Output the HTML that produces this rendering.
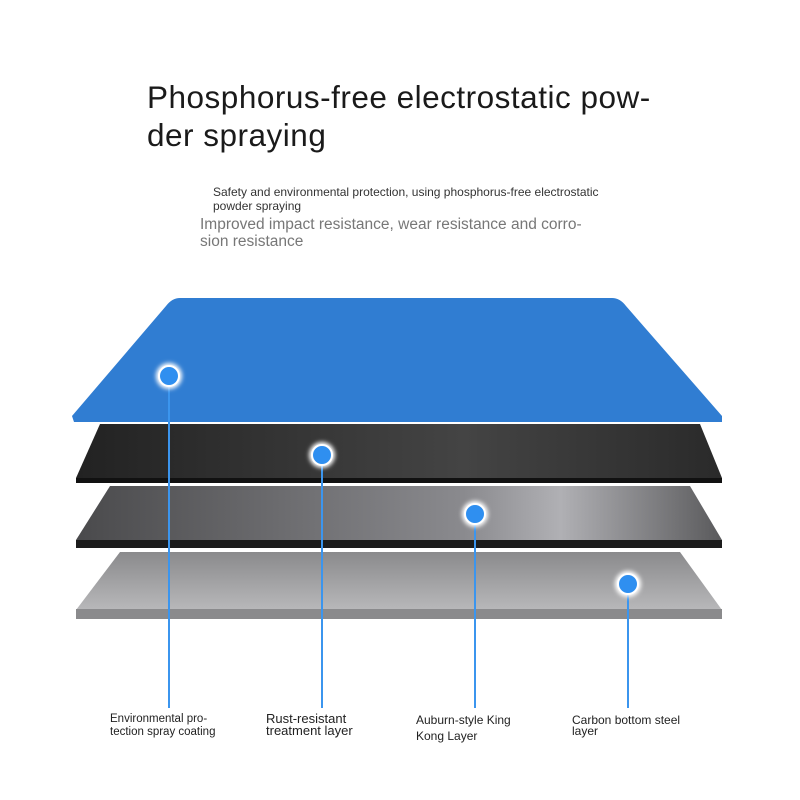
<!DOCTYPE html>
<html><head><style>
body{margin:0;width:800px;height:800px;background:#fff;overflow:hidden;position:relative;font-family:"Liberation Sans",sans-serif}
.t{position:absolute;color:#222}
</style></head><body>
<div class="t" style="left:147px;top:78px;font-size:31.5px;line-height:38px;width:560px;letter-spacing:0.5px;color:#1a1a1a">Phosphorus-free electrostatic pow-<br>der spraying</div>
<div class="t" style="left:213px;top:185px;font-size:12px;line-height:14px;color:#333">Safety and environmental protection, using phosphorus-free electrostatic<br>powder spraying</div>
<div class="t" style="left:200px;top:216px;font-size:15.5px;line-height:17px;color:#777">Improved impact resistance, wear resistance and corro-<br>sion resistance</div>
<svg width="800" height="800" style="position:absolute;left:0;top:0">
<defs>
<linearGradient id="lt" x1="0" y1="0" x2="0" y2="1"><stop offset="0" stop-color="#8a8a8c"/><stop offset="1" stop-color="#b8b8ba"/></linearGradient>
<linearGradient id="md" x1="0" y1="0" x2="1" y2="0"><stop offset="0" stop-color="#4a4a4c"/><stop offset="0.6" stop-color="#8a8a8e"/><stop offset="0.75" stop-color="#b0b0b4"/><stop offset="1" stop-color="#5a5a5c"/></linearGradient>
<linearGradient id="dk" x1="0" y1="0" x2="1" y2="0"><stop offset="0" stop-color="#222"/><stop offset="0.6" stop-color="#444"/><stop offset="1" stop-color="#2a2a2a"/></linearGradient>
<filter id="g"><feGaussianBlur stdDeviation="2"/></filter>
</defs>
<polygon points="120,552 680,552 722,610 76,610" fill="url(#lt)"/>
<rect x="76" y="609" width="646" height="10" fill="#8a8a8c"/>
<polygon points="110,486 690,486 722,540 76,540" fill="url(#md)"/>
<rect x="76" y="540" width="646" height="8" fill="#1c1c1c"/>
<polygon points="100,424 700,424 722,478 76,478" fill="url(#dk)"/>
<rect x="76" y="478" width="646" height="5" fill="#111"/>
<path d="M180,298 L612,298 Q620,298 626,306 L722,416 L722,422 L74,422 L72,416 L166,306 Q172,298 180,298 Z" fill="#307dd2"/>
<g stroke="#3b95ee" stroke-width="2">
<line x1="169" y1="376" x2="169" y2="708"/><line x1="322" y1="455" x2="322" y2="708"/>
<line x1="475" y1="514" x2="475" y2="708"/><line x1="628" y1="584" x2="628" y2="708"/>
</g>
<g fill="#fff" filter="url(#g)"><circle cx="169" cy="376" r="13"/><circle cx="322" cy="455" r="13"/><circle cx="475" cy="514" r="13"/><circle cx="628" cy="584" r="13"/></g>
<g fill="#2f8ff0" stroke="#fff" stroke-width="2"><circle cx="169" cy="376" r="10"/><circle cx="322" cy="455" r="10"/><circle cx="475" cy="514" r="10"/><circle cx="628" cy="584" r="10"/></g>
</svg>
<div class="t" style="left:110px;top:713px;font-size:11.5px;line-height:13px">Environmental pro-<br>tection spray coating</div>
<div class="t" style="left:266px;top:713px;font-size:13px;line-height:12px">Rust-resistant<br>treatment layer</div>
<div class="t" style="left:416px;top:712px;font-size:12px;line-height:16px">Auburn-style King<br>Kong Layer</div>
<div class="t" style="left:572px;top:715px;font-size:12px;line-height:11px">Carbon bottom steel<br>layer</div>
</body></html>
